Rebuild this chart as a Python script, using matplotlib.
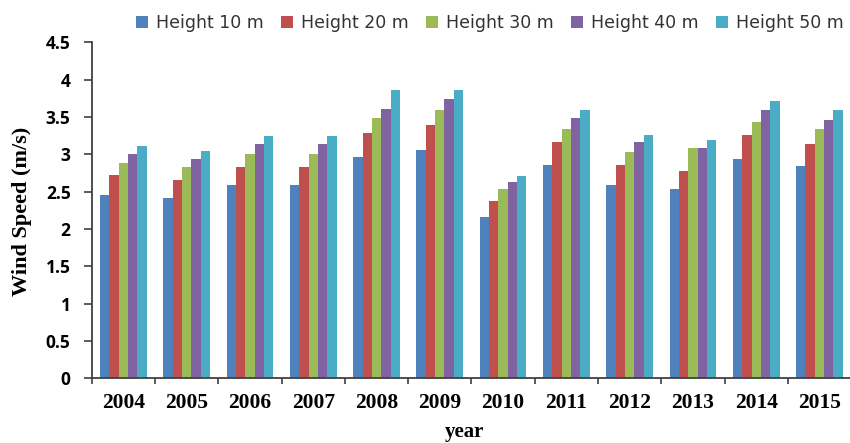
import numpy as np
import matplotlib
matplotlib.use("Agg")
import matplotlib.pyplot as plt

years = ["2004", "2005", "2006", "2007", "2008", "2009",
         "2010", "2011", "2012", "2013", "2014", "2015"]
heights = ["Height 10 m", "Height 20 m", "Height 30 m", "Height 40 m", "Height 50 m"]

h10 = [2.46, 2.41, 2.59, 2.59, 2.97, 3.06, 2.16, 2.86, 2.59, 2.53, 2.94, 2.84]
h20 = [2.72, 2.66, 2.83, 2.83, 3.28, 3.39, 2.38, 3.16, 2.86, 2.78, 3.26, 3.14]
h30 = [2.89, 2.83, 3.01, 3.01, 3.48, 3.59, 2.53, 3.34, 3.03, 3.08, 3.43, 3.34]
h40 = [3.01, 2.94, 3.14, 3.14, 3.61, 3.74, 2.63, 3.48, 3.16, 3.08, 3.59, 3.46]
h50 = [3.11, 3.04, 3.24, 3.24, 3.86, 3.86, 2.71, 3.59, 3.26, 3.19, 3.71, 3.59]

colors = ["#4F81BD", "#C0504D", "#9BBB59", "#8064A2", "#4BACC6"]

fig = plt.figure(figsize=(8.5, 4.43), dpi=100)
ax = fig.add_axes([0.108, 0.146, 0.8933, 0.7585])

x = np.arange(len(years))
w = 0.1475
series = [h10, h20, h30, h40, h50]
for i, (vals, lab, c) in enumerate(zip(series, heights, colors)):
    ax.bar(x + (i - 2) * w, vals, w, color=c, label=lab)

ax.set_xlim(-0.5, len(years) - 0.5)
ax.set_ylim(0, 4.5)
ax.set_yticks(np.arange(0, 4.51, 0.5))
ax.set_yticklabels(["0", "0.5", "1", "1.5", "2", "2.5", "3", "3.5", "4", "4.5"],
                   fontfamily="Open Sans", fontweight="bold", fontsize=12.5)

# boundaries get the tick marks, centres get the year labels
ax.set_xticks(np.arange(-0.5, len(years), 1.0))
ax.set_xticklabels([])
ax.set_xticks(x, minor=True)
ax.set_xticklabels(years, minor=True, fontfamily="Liberation Serif",
                   fontweight="bold", fontsize=15.5)
ax.tick_params(axis="x", which="major", direction="out", length=4, width=1.2, color="#404040")
ax.tick_params(axis="x", which="minor", length=0, pad=10.5)
ax.tick_params(axis="y", direction="out", length=5.8, width=1.2, color="#404040", pad=9.5)

for s in ["top", "right"]:
    ax.spines[s].set_visible(False)
for s in ["left", "bottom"]:
    ax.spines[s].set_color("#404040")
    ax.spines[s].set_linewidth(1.3)

fig.text(22 / 850, 1 - 211 / 443, "Wind Speed (m/s)", rotation=90,
         ha="center", va="center", fontfamily="Liberation Serif",
         fontweight="bold", fontsize=16)
fig.text(464.5 / 850, 6 / 443, "year", ha="center", va="baseline",
         fontfamily="Liberation Serif", fontweight="bold", fontsize=15)

leg = fig.legend(loc="center", bbox_to_anchor=(0.576, 0.948), ncol=5, frameon=False,
                 prop={"family": "DejaVu Sans", "size": 12.5},
                 handlelength=0.7, handleheight=0.7, handletextpad=0.45,
                 columnspacing=1.0, borderaxespad=0)
for t in leg.get_texts():
    t.set_color("#333333")

fig.savefig("out.png", dpi=100)
